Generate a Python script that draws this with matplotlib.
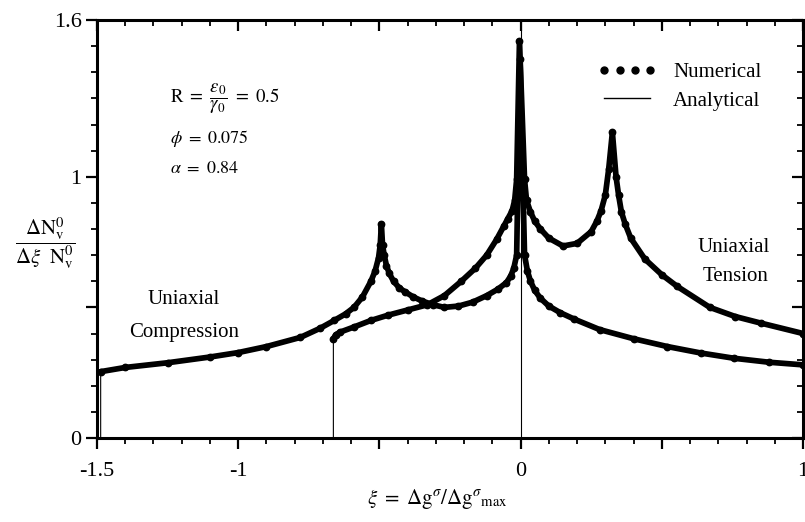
import numpy as np
import matplotlib
matplotlib.use("Agg")
import matplotlib.pyplot as plt
from matplotlib.lines import Line2D
from matplotlib.ticker import MultipleLocator

# ---------------- data ----------------
# Curve starting in uniaxial compression (cut-off at xi ~ -1.49)
c1_x = [-1.487, -1.40, -1.25, -1.10, -1.00, -0.90, -0.78, -0.71, -0.66, -0.62,
        -0.59, -0.56, -0.53, -0.515, -0.503, -0.497, -0.493, -0.489, -0.483,
        -0.475, -0.465, -0.45, -0.43, -0.41, -0.38, -0.35, -0.31, -0.27, -0.22,
        -0.17, -0.12, -0.08, -0.05, -0.035, -0.024, -0.014, -0.002, 0.014,
        0.024, 0.035, 0.05, 0.07, 0.10, 0.14, 0.19, 0.28, 0.40, 0.52, 0.64,
        0.757, 0.88, 1.0]
c1_y = [0.254, 0.27, 0.288, 0.31, 0.327, 0.35, 0.385, 0.42, 0.45, 0.475,
        0.50, 0.54, 0.60, 0.64, 0.69, 0.74, 0.82, 0.74, 0.70,
        0.66, 0.63, 0.60, 0.575, 0.56, 0.54, 0.525, 0.51, 0.50, 0.505,
        0.52, 0.545, 0.57, 0.595, 0.62, 0.65, 0.70, 1.45, 0.70,
        0.64, 0.60, 0.565, 0.535, 0.505, 0.48, 0.455, 0.415, 0.38, 0.35, 0.325,
        0.305, 0.29, 0.28]

# Second curve (cut-off at xi ~ -0.66)
c2_x = [-0.663, -0.655, -0.64, -0.59, -0.53, -0.47, -0.40, -0.33, -0.27, -0.21,
        -0.16, -0.12, -0.085, -0.06, -0.045, -0.03, -0.021, -0.014, -0.004,
        0.014, 0.021, 0.035, 0.05, 0.07, 0.10, 0.15, 0.20, 0.25, 0.27, 0.285,
        0.30, 0.312, 0.325, 0.338, 0.347, 0.357, 0.37, 0.39, 0.44, 0.50, 0.555,
        0.67, 0.76, 0.85, 1.0]
c2_y = [0.38, 0.395, 0.405, 0.425, 0.45, 0.47, 0.49, 0.51, 0.545, 0.60,
        0.65, 0.70, 0.76, 0.81, 0.84, 0.87, 0.91, 0.99, 1.52,
        0.99, 0.91, 0.865, 0.83, 0.80, 0.765, 0.735, 0.745, 0.79, 0.83, 0.87,
        0.93, 1.03, 1.17, 1.00, 0.93, 0.865, 0.82, 0.765, 0.685, 0.625, 0.58,
        0.50, 0.465, 0.44, 0.40]

# analytical curves drop to zero at the cut-offs; singular line at xi = 0
cutoff_x = [-1.487, -0.663]
singular_x = 0.0

x_ticks = [-1.5, -1.0, -0.5, 0.0, 0.5, 1.0]
x_ticklabels = ["-1.5", "-1", "", "0", "", "1"]
y_ticks = [0.0, 0.5, 1.0, 1.6]
y_ticklabels = ["0", "", "1", "1.6"]

# ---------------- style ----------------
plt.rcParams["font.family"] = ["Liberation Serif", "DejaVu Serif"]
plt.rcParams["mathtext.fontset"] = "stix"
plt.rcParams["axes.unicode_minus"] = False

fig = plt.figure(figsize=(8.05, 5.22), dpi=100)
ax = fig.add_axes([97 / 805, 84 / 522, 706 / 805, 418 / 522])
ax.set_xlim(-1.5, 1.0)
ax.set_ylim(0.0, 1.6)

# analytical (thin lines)
for cx, xs, ys in ((cutoff_x[0], c1_x, c1_y), (cutoff_x[1], c2_x, c2_y)):
    ax.plot(np.r_[cx, xs], np.r_[0.0, ys], color="black", lw=0.8, zorder=3)
ax.axvline(singular_x, color="black", lw=0.8, zorder=3)

# numerical (dense dots -> thick dotted band)
for xs, ys in ((c1_x, c1_y), (c2_x, c2_y)):
    ax.plot(xs, ys, color="black", lw=4.1, solid_joinstyle="round",
            solid_capstyle="round", zorder=2)
    ax.plot(xs, ys, ls="none", marker="o", ms=4.6, color="black", zorder=4)

# ticks
ax.set_xticks(x_ticks)
ax.set_xticklabels(x_ticklabels)
ax.set_yticks(y_ticks)
ax.set_yticklabels(y_ticklabels)
ax.xaxis.set_minor_locator(MultipleLocator(0.1))
ax.yaxis.set_minor_locator(MultipleLocator(0.1))
ax.tick_params(axis="both", which="major", direction="out", length=8, width=1.6,
               labelsize=16)
ax.tick_params(axis="both", which="minor", direction="out", length=4, width=1.3)
ax.tick_params(axis="x", which="major", pad=9)
ax.tick_params(axis="y", which="major", pad=3)

secx = ax.secondary_xaxis("top")
secx.set_xticks(x_ticks)
secx.set_xticklabels([])
secx.xaxis.set_minor_locator(MultipleLocator(0.1))
secx.tick_params(which="major", direction="in", length=8, width=1.6)
secx.tick_params(which="minor", direction="in", length=4, width=1.3)
secx.spines["top"].set_linewidth(2.0)

secy = ax.secondary_yaxis("right")
secy.set_yticks(y_ticks)
secy.set_yticklabels([])
secy.yaxis.set_minor_locator(MultipleLocator(0.1))
secy.tick_params(which="major", direction="in", length=8, width=1.6)
secy.tick_params(which="minor", direction="in", length=4, width=1.3)
secy.spines["right"].set_linewidth(2.0)

for s in ax.spines.values():
    s.set_linewidth(2.2)

# labels
ax.set_xlabel(r"$\xi\ =\ \Delta\mathrm{g}^{\sigma}/\Delta\mathrm{g}^{\sigma}{}_{\mathrm{max}}$",
              fontsize=15, va="center")
ax.xaxis.set_label_coords(0.4816, -0.146)
ax.set_ylabel(r"$\dfrac{\Delta\mathrm{N}^{0}_{\mathrm{v}}}{\Delta\xi\ \ \mathrm{N}^{0}_{\mathrm{v}}}$",
              fontsize=15, rotation=0, va="center", ha="center")
ax.yaxis.set_label_coords(-0.0737, 0.4665)

# annotations
ax.text(-1.241, 1.300, r"$\mathrm{R}\ =\ \dfrac{\varepsilon_0}{\gamma_0}\ =\ 0.5$",
        fontsize=13.5, va="center", ha="left")
ax.text(-1.241, 1.146, r"$\phi\ =\ 0.075$", fontsize=13, va="center", ha="left")
ax.text(-1.241, 1.031, r"$\alpha\ =\ 0.84$", fontsize=13, va="center", ha="left")

ax.text(-1.195, 0.53, "Uniaxial", fontsize=15, ha="center", va="center")
ax.text(-1.19, 0.404, "Compression", fontsize=15, ha="center", va="center")
ax.text(0.755, 0.731, "Uniaxial", fontsize=15, ha="center", va="center")
ax.text(0.762, 0.619, "Tension", fontsize=15, ha="center", va="center")

# legend
h_num = Line2D([], [], ls="none", marker="o", ms=5, color="black")
h_ana = Line2D([], [], ls="-", lw=1.0, color="black")
ax.legend([h_num, h_ana], ["Numerical", "Analytical"], loc="upper left",
          bbox_to_anchor=(0.7096, 0.899), frameon=False, fontsize=15,
          numpoints=4, handlelength=2.8, handletextpad=0.8, labelspacing=0.45,
          borderpad=0.0, borderaxespad=0.0)

fig.savefig("out.png", dpi=100)
